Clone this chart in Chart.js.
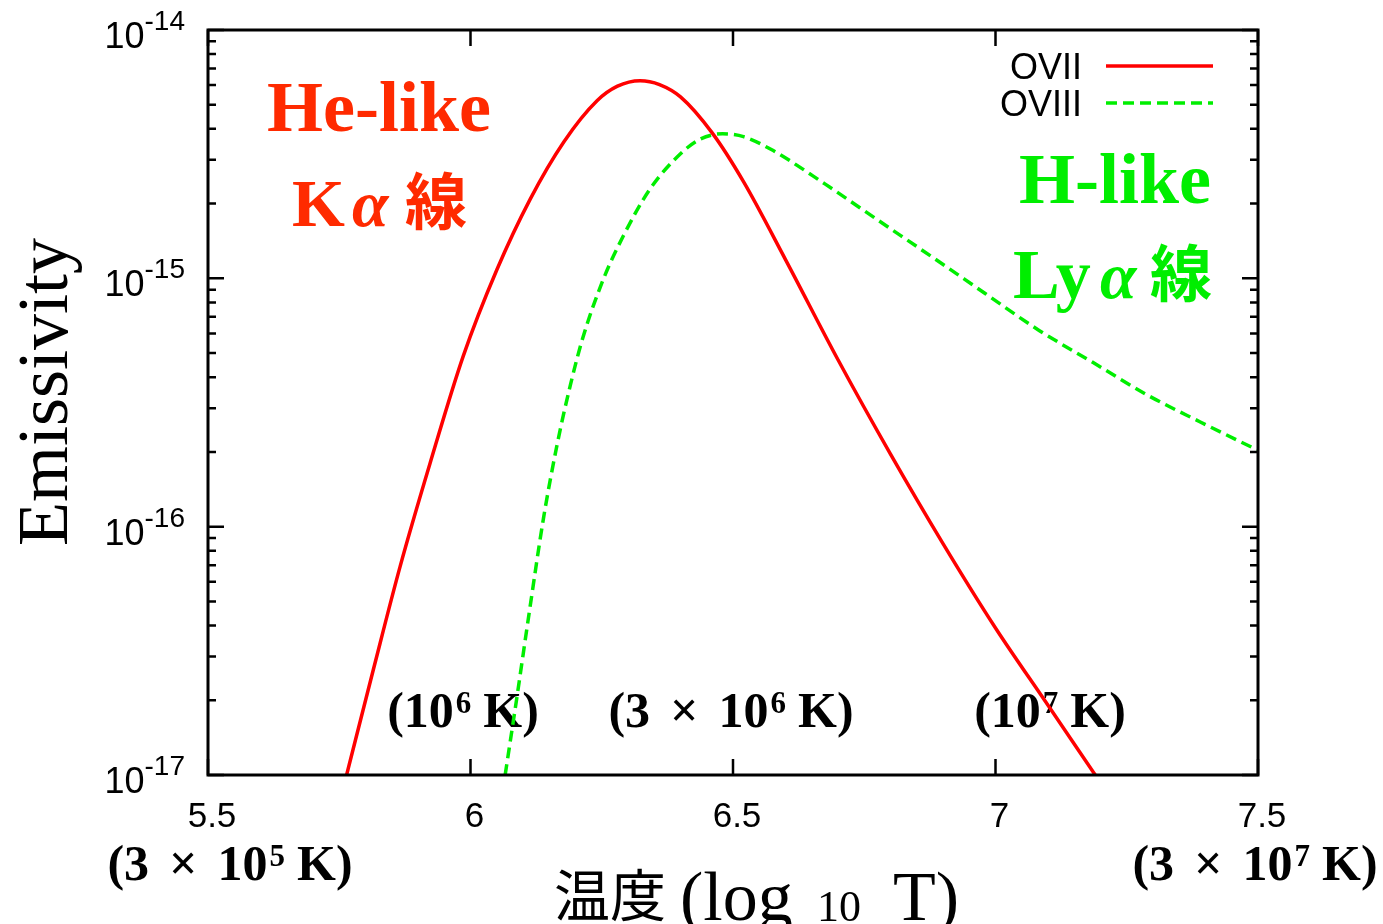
<!DOCTYPE html>
<html>
<head>
<meta charset="utf-8">
<script src="https://cdn.jsdelivr.net/npm/chart.js@4"></script>
<style>
  html, body { margin: 0; padding: 0; background: #fff; }
  canvas { display: block; }
</style>
</head>
<body>
<canvas id="chart" width="1383" height="924"></canvas>
<script>
// OVII (He-like Kα) emissivity vs log10 T
const oviiLogT = [5.764, 5.815, 5.866, 5.923, 5.986, 6.050, 6.114, 6.178, 6.241, 6.280,
                  6.323, 6.360, 6.400, 6.460, 6.520, 6.600, 6.700, 6.800, 6.900, 7.000,
                  7.100, 7.190];
const oviiEmis = [1.0e-17, 2.66e-17, 6.92e-17, 1.80e-16, 4.85e-16, 1.08e-15, 2.09e-15, 3.55e-15, 5.19e-15, 5.94e-15,
                  6.25e-15, 6.03e-15, 5.38e-15, 3.86e-15, 2.45e-15, 1.19e-15, 4.70e-16, 1.96e-16, 8.55e-17, 3.91e-17,
                  1.91e-17, 1.0e-17];

// OVIII (H-like Lyα)
const oviiiLogT = [6.066, 6.088, 6.113, 6.139, 6.164, 6.190, 6.215, 6.253, 6.291, 6.342,
                   6.399, 6.437, 6.480, 6.520, 6.573, 6.675, 6.777, 6.879, 6.981, 7.083,
                   7.186, 7.288, 7.390, 7.498];
const oviiiEmis = [1.0e-17, 2.03e-17, 4.68e-17, 1.08e-16, 2.09e-16, 3.70e-16, 5.86e-16, 9.91e-16, 1.48e-15, 2.29e-15,
                   3.16e-15, 3.63e-15, 3.82e-15, 3.72e-15, 3.30e-15, 2.40e-15, 1.71e-15, 1.22e-15, 8.67e-16, 6.17e-16,
                   4.58e-16, 3.40e-16, 2.64e-16, 2.04e-16];

const xTicks = [5.5, 6, 6.5, 7, 7.5];
const xTickLabels = ['5.5', '6', '6.5', '7', '7.5'];
const yDecades = [1e-17, 1e-16, 1e-15, 1e-14];
const yExponents = ['-17', '-16', '-15', '-14'];

const SANS = '"Liberation Sans", Arial, sans-serif';
const SERIF = '"Liberation Serif", "Times New Roman", "Noto Sans CJK JP", serif';
const CJK = '"Noto Sans CJK JP", sans-serif';
const RED_TXT = '#ff2a00';
const GREEN = '#00ee00';

// draw a row of text pieces; a number in the list is a gap in px
function runs(ctx, parts, x, y, align) {
  let total = 0;
  parts.forEach(p => {
    if (typeof p === 'number') { total += p; return; }
    ctx.font = p[1]; total += ctx.measureText(p[0]).width;
  });
  let cx = align === 'center' ? x - total / 2 : align === 'right' ? x - total : x;
  ctx.textAlign = 'left';
  ctx.textBaseline = 'alphabetic';
  parts.forEach(p => {
    if (typeof p === 'number') { cx += p; return; }
    ctx.font = p[1];
    ctx.fillText(p[0], cx, y + (p[2] || 0));
    cx += ctx.measureText(p[0]).width;
  });
}

function tempLabel(ctx, three, exp, x, y) {
  const B = 'bold 50px ' + SERIF, S = 'bold 31px ' + SERIF;
  const head = three ? [['(3', B], 20, ['\u00d7', B], 20, ['10', B]] : [['(10', B]];
  runs(ctx, head.concat([2, [exp, S, -14], 12, ['K)', B]]), x, y, 'center');
}

const decor = {
  id: 'decor',
  beforeDatasetsDraw(chart) {
    const ctx = chart.ctx;
    ctx.save();
    ctx.fillStyle = '#000';
    tempLabel(ctx, false, '6', 463, 727);
    tempLabel(ctx, true, '6', 731, 727);
    tempLabel(ctx, false, '7', 1050, 727);
    ctx.restore();
  },
  afterDraw(chart) {
    const ctx = chart.ctx;
    const { left, right, top, bottom } = chart.chartArea;
    const xs = chart.scales.x, ys = chart.scales.y;
    ctx.save();
    ctx.strokeStyle = '#000';
    ctx.lineWidth = 2.5;
    ctx.lineCap = 'butt';
    // y ticks (major + minor), both sides, inward
    yDecades.forEach((d, i) => {
      const py = ys.getPixelForValue(d);
      ctx.beginPath();
      ctx.moveTo(left, py); ctx.lineTo(left + 16, py);
      ctx.moveTo(right, py); ctx.lineTo(right - 16, py);
      ctx.stroke();
      if (i < yDecades.length - 1) {
        for (let m = 2; m <= 9; m++) {
          const pm = ys.getPixelForValue(m * d);
          ctx.beginPath();
          ctx.moveTo(left, pm); ctx.lineTo(left + 8, pm);
          ctx.moveTo(right, pm); ctx.lineTo(right - 8, pm);
          ctx.stroke();
        }
      }
    });
    // x ticks, top and bottom
    xTicks.forEach(v => {
      const px = xs.getPixelForValue(v);
      ctx.beginPath();
      ctx.moveTo(px, bottom); ctx.lineTo(px, bottom - 16);
      ctx.moveTo(px, top); ctx.lineTo(px, top + 16);
      ctx.stroke();
    });
    // frame
    ctx.lineWidth = 3;
    ctx.strokeRect(left, top, right - left, bottom - top);

    // tick labels
    ctx.fillStyle = '#000';
    yDecades.forEach((d, i) => {
      const py = ys.getPixelForValue(d);
      runs(ctx, [['10', '36px ' + SANS], [yExponents[i], '28px ' + SANS, -18]], 185, py + 18, 'right');
    });
    xTicks.forEach((v, i) => {
      ctx.font = '35px ' + SANS;
      ctx.textAlign = 'center';
      ctx.fillText(xTickLabels[i], xs.getPixelForValue(v) + 4, 827);
    });
    tempLabel(ctx, true, '5', 230, 880);
    tempLabel(ctx, true, '7', 1255, 880);

    // axis titles
    ctx.save();
    ctx.translate(67, 392);
    ctx.rotate(-Math.PI / 2);
    ctx.font = '72px ' + SERIF;
    ctx.textAlign = 'center';
    ctx.fillText('Emissivity', 0, 0);
    ctx.restore();

    ctx.textAlign = 'left';
    ctx.font = '56px ' + CJK;
    ctx.fillText('温度', 554, 916);
    ctx.font = '70px ' + SERIF;
    ctx.fillText('(log', 680, 920);
    ctx.font = '44px ' + SERIF;
    ctx.fillText('10', 817, 921);
    ctx.font = '70px ' + SERIF;
    ctx.fillText('T)', 893, 920);

    // legend
    const ds = chart.data.datasets;
    ctx.font = '36px ' + SANS;
    ctx.textAlign = 'right';
    [66, 103].forEach((ly, i) => {
      ctx.fillStyle = '#000';
      ctx.fillText(ds[i].label, 1082, ly + 13);
      ctx.strokeStyle = ds[i].borderColor;
      ctx.lineWidth = ds[i].borderWidth;
      ctx.setLineDash(ds[i].borderDash || []);
      ctx.beginPath();
      ctx.moveTo(1106, ly); ctx.lineTo(1213, ly);
      ctx.stroke();
    });
    ctx.setLineDash([]);

    // line names
    ctx.textAlign = 'left';
    ctx.fillStyle = RED_TXT;
    ctx.font = 'bold 72px ' + SERIF;
    ctx.fillText('He-like', 267, 131);
    ctx.font = 'bold 68px ' + SERIF;
    ctx.fillText('K', 292, 226);
    ctx.font = 'italic bold 66px ' + SERIF;
    ctx.fillText('\u03b1', 352, 226);
    ctx.font = 'bold 62px ' + CJK;
    ctx.fillText('線', 405, 225);

    ctx.fillStyle = GREEN;
    ctx.font = 'bold 72px ' + SERIF;
    ctx.fillText('H-like', 1019, 203);
    ctx.font = 'bold 70px ' + SERIF;
    ctx.fillText('Ly', 1013, 298);
    ctx.font = 'italic bold 66px ' + SERIF;
    ctx.fillText('\u03b1', 1100, 298);
    ctx.font = 'bold 62px ' + CJK;
    ctx.fillText('線', 1150, 297);
    ctx.restore();
  }
};

new Chart(document.getElementById('chart'), {
  type: 'line',
  data: {
    datasets: [
      {
        label: 'OVII',
        data: oviiLogT.map((x, i) => ({ x: x, y: oviiEmis[i] })),
        borderColor: '#ff0000',
        borderWidth: 3.5,
        pointRadius: 0,
        fill: false,
        cubicInterpolationMode: 'monotone'
      },
      {
        label: 'OVIII',
        data: oviiiLogT.map((x, i) => ({ x: x, y: oviiiEmis[i] })),
        borderColor: GREEN,
        borderWidth: 3.5,
        borderDash: [11, 6],
        pointRadius: 0,
        fill: false,
        cubicInterpolationMode: 'monotone'
      }
    ]
  },
  options: {
    responsive: false,
    animation: false,
    layout: { padding: { left: 208, right: 125, top: 30, bottom: 149 } },
    plugins: { legend: { display: false }, tooltip: { enabled: false } },
    scales: {
      x: {
        type: 'linear', min: 5.5, max: 7.5,
        ticks: { display: false },
        grid: { display: false, drawTicks: false },
        border: { display: false }
      },
      y: {
        type: 'logarithmic', min: 1e-17, max: 1e-14,
        ticks: { display: false },
        grid: { display: false, drawTicks: false },
        border: { display: false }
      }
    }
  },
  plugins: [decor]
});
</script>
</body>
</html>
